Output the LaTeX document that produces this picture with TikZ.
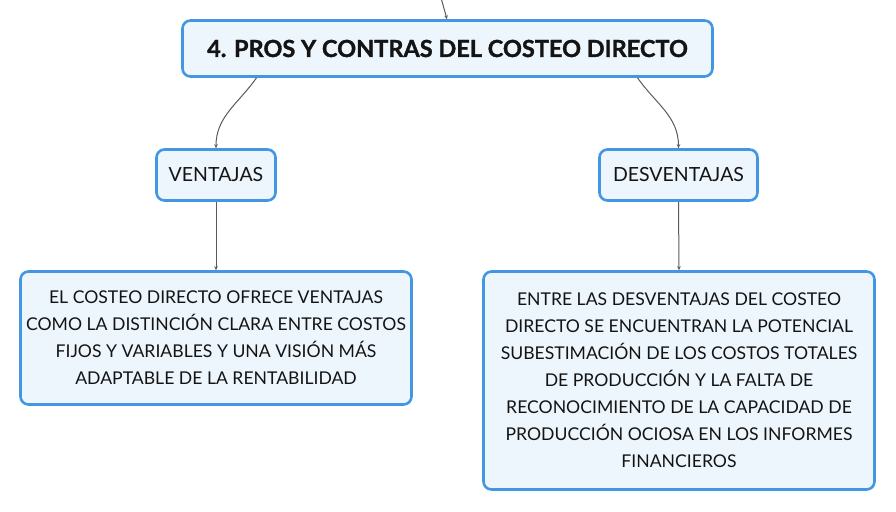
\documentclass[tikz,border=0pt]{standalone}
\usepackage{fontspec}
\setmainfont{Lato}
\usepackage{xcolor}
\usetikzlibrary{arrows.meta,positioning}
\definecolor{mapblue}{HTML}{4396E2}
\definecolor{mapfill}{HTML}{EEF6FD}
\definecolor{mapline}{HTML}{5A5A5A}
\definecolor{maptext}{HTML}{141414}

\begin{document}
\begin{tikzpicture}[x=1pt,y=-1pt,
  topic/.style={draw=mapblue,line width=2.6pt,rounded corners=8pt,fill=mapfill,
                text=maptext,align=center,inner sep=0pt},
  maintopic/.style={topic,minimum width=530pt,minimum height=56pt,
                font=\fontsize{23.5}{28}\selectfont\bfseries\addfontfeature{FakeBold=1.3}},
  subtopic/.style={topic,minimum height=51pt,font=\fontsize{19.5}{22}\selectfont},
  detail/.style={topic,font=\fontsize{17.6}{27}\selectfont},
  link/.style={draw=mapline,line width=1pt,-{Stealth[length=4pt,width=3.5pt]}}]

\useasboundingbox (0,0) rectangle (896,511);

\node[maintopic] (title) at (447.5,48.5) {4. PROS Y CONTRAS DEL COSTEO DIRECTO};

\node[subtopic,minimum width=119pt] (pros) at (216,175) {VENTAJAS};
\node[subtopic,minimum width=158pt] (cons) at (678.5,175) {DESVENTAJAS};

\node[detail,minimum width=391pt,minimum height=133pt] (prostext) at (216,338)
  {EL COSTEO DIRECTO OFRECE VENTAJAS\\
   COMO LA DISTINCIÓN CLARA ENTRE COSTOS\\
   FIJOS Y VARIABLES Y UNA VISIÓN MÁS\\
   ADAPTABLE DE LA RENTABILIDAD};

\node[detail,minimum width=391pt,minimum height=218pt] (constext) at (679,380.5)
  {ENTRE LAS DESVENTAJAS DEL COSTEO\\
   DIRECTO SE ENCUENTRAN LA POTENCIAL\\
   SUBESTIMACIÓN DE LOS COSTOS TOTALES\\
   DE PRODUCCIÓN Y LA FALTA DE\\
   RECONOCIMIENTO DE LA CAPACIDAD DE\\
   PRODUCCIÓN OCIOSA EN LOS INFORMES\\
   FINANCIEROS};

\coordinate (parent) at (440.5,-4);

\draw[link] (parent) -- ([xshift=-0.5pt]title.north);
\draw[link] ([xshift=-191pt]title.south) to[out=-125,in=90] (pros.north);
\draw[link] ([xshift=190pt]title.south) to[out=-55,in=90] (cons.north);
\draw[link] (pros.south) -- (prostext.north);
\draw[link] (cons.south) -- (constext.north);
\end{tikzpicture}
\end{document}
